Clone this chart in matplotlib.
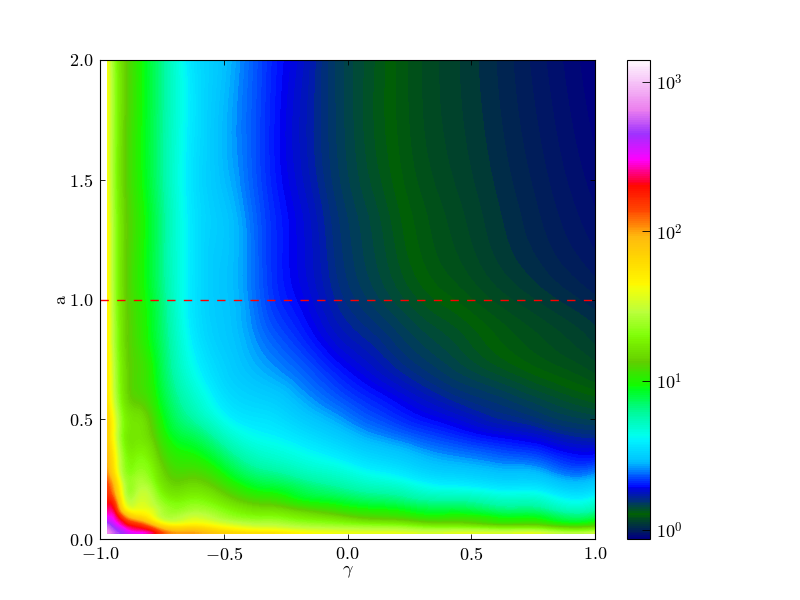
import numpy as np
import matplotlib
matplotlib.use("Agg")
import matplotlib.pyplot as plt
import matplotlib.tri as mtri
from matplotlib.colors import LogNorm, Normalize
from matplotlib.cm import ScalarMappable
from matplotlib.ticker import NullLocator, FixedLocator

plt.rcParams['font.family'] = ['cmr10', 'DejaVu Serif']
plt.rcParams['mathtext.fontset'] = 'cm'
plt.rcParams['axes.unicode_minus'] = False
plt.rcParams['axes.formatter.use_mathtext'] = True

# log10 of the value at each (a, gamma) node, one list per gamma
gamma = [-0.97, -0.94, -0.9, -0.85, -0.77, -0.65, -0.5, -0.33, -0.2, -0.05, 0.1, 0.25, 0.4, 0.6, 0.8, 1.0]
a = [0.025, 0.04, 0.06, 0.08, 0.11, 0.15, 0.2, 0.26, 0.35, 0.45, 0.55, 0.7, 0.85, 1.0, 1.4, 2.0]

col_m097 = [2.85, 2.80, 2.70, 2.55, 2.42, 2.30, 2.18, 2.06, 1.94, 1.85, 1.78, 1.72, 1.68, 1.66, 1.63, 1.60]
col_m094 = [2.72, 2.66, 2.55, 2.45, 2.32, 2.15, 1.95, 1.78, 1.65, 1.57, 1.50, 1.43, 1.39, 1.37, 1.35, 1.33]
col_m090 = [2.60, 2.50, 2.34, 2.18, 1.85, 1.58, 1.47, 1.39, 1.32, 1.27, 1.23, 1.18, 1.16, 1.15, 1.14, 1.14]
col_m085 = [2.50, 2.36, 2.20, 1.95, 1.66, 1.52, 1.44, 1.38, 1.28, 1.22, 1.15, 1.08, 1.05, 1.03, 1.02, 1.01]
col_m077 = [2.25, 2.10, 1.82, 1.60, 1.50, 1.42, 1.33, 1.24, 1.15, 1.06, 0.99, 0.93, 0.89, 0.87, 0.85, 0.84]
col_m065 = [2.00, 1.88, 1.66, 1.53, 1.42, 1.32, 1.21, 1.11, 0.99, 0.86, 0.76, 0.67, 0.62, 0.60, 0.595, 0.59]
col_m050 = [1.85, 1.72, 1.56, 1.44, 1.34, 1.23, 1.11, 0.99, 0.84, 0.69, 0.58, 0.51, 0.48, 0.47, 0.465, 0.46]
col_m033 = [1.75, 1.60, 1.46, 1.36, 1.24, 1.10, 0.96, 0.83, 0.69, 0.59, 0.52, 0.43, 0.38, 0.35, 0.335, 0.33]
col_m020 = [1.66, 1.53, 1.40, 1.30, 1.18, 1.01, 0.89, 0.77, 0.64, 0.54, 0.46, 0.38, 0.32, 0.285, 0.265, 0.26]
col_m005 = [1.60, 1.49, 1.35, 1.24, 1.09, 0.95, 0.82, 0.71, 0.58, 0.47, 0.39, 0.31, 0.25, 0.22, 0.195, 0.18]
col_p010 = [1.57, 1.46, 1.30, 1.15, 1.02, 0.89, 0.76, 0.64, 0.51, 0.40, 0.33, 0.255, 0.21, 0.175, 0.145, 0.13]
col_p025 = [1.55, 1.43, 1.25, 1.10, 0.97, 0.84, 0.71, 0.58, 0.46, 0.35, 0.28, 0.21, 0.17, 0.135, 0.10, 0.085]
col_p040 = [1.54, 1.40, 1.19, 1.06, 0.94, 0.81, 0.655, 0.525, 0.41, 0.31, 0.24, 0.175, 0.14, 0.105, 0.07, 0.055]
col_p060 = [1.53, 1.36, 1.11, 1.00, 0.88, 0.75, 0.61, 0.485, 0.37, 0.26, 0.20, 0.135, 0.10, 0.07, 0.035, 0.02]
col_p080 = [1.52, 1.32, 1.08, 0.96, 0.84, 0.71, 0.58, 0.455, 0.33, 0.225, 0.165, 0.10, 0.07, 0.04, 0.00, -0.02]
col_p100 = [1.50, 1.28, 1.05, 0.93, 0.80, 0.68, 0.55, 0.43, 0.29, 0.195, 0.135, 0.07, 0.04, 0.01, -0.035, -0.06]

log_v = np.array([col_m097, col_m094, col_m090, col_m085, col_m077, col_m065, col_m050, col_m033,
                  col_m020, col_m005, col_p010, col_p025, col_p040, col_p060, col_p080, col_p100]).T

vmin, vmax = 0.87, 1400.0
cbar_ticks = [1, 10, 100, 1000]

fig = plt.figure(figsize=(8, 6), dpi=100)
ax = fig.add_axes([100 / 800, 61 / 600, 495 / 800, 479 / 600])

# smooth the table with matplotlib's own refiner, then fill many thin bands
gg, aa = np.meshgrid(gamma, a)
triang = mtri.Triangulation(gg.ravel(), aa.ravel())
fine_tri, fine_v = mtri.UniformTriRefiner(triang).refine_field(log_v.ravel(), subdiv=3)
levels = np.linspace(np.log10(vmin), np.log10(vmax), 240)
ax.tricontourf(fine_tri, fine_v, levels=levels, cmap='gist_ncar',
               norm=Normalize(np.log10(vmin), np.log10(vmax)), extend='both', antialiased=False)
ax.plot([-1, 1], [1, 1], 'r--', lw=1, dashes=(6, 6))

ax.set_xlim(-1, 1)
ax.set_ylim(0, 2)
ax.set_xticks([-1, -0.5, 0, 0.5, 1])
ax.set_yticks([0, 0.5, 1, 1.5, 2])
ax.set_xticklabels([r'$-1.0$', r'$-0.5$', r'$0.0$', r'$0.5$', r'$1.0$'])
ax.set_yticklabels([r'$0.0$', r'$0.5$', r'$1.0$', r'$1.5$', r'$2.0$'])
ax.tick_params(direction='in', top=True, right=True, length=3.5, width=0.6, labelsize=13, pad=5)
ax.set_xlabel(r'$\gamma$', fontsize=13, labelpad=0)
ax.set_ylabel('a', fontsize=13, labelpad=0)

cax = fig.add_axes([627 / 800, 61 / 600, 23 / 800, 479 / 600])
sm = ScalarMappable(norm=LogNorm(vmin, vmax), cmap='gist_ncar')
cb = fig.colorbar(sm, cax=cax)
cb.ax.yaxis.set_major_locator(FixedLocator(cbar_ticks))
cb.ax.yaxis.set_minor_locator(NullLocator())
cb.ax.set_yticklabels([r'$10^{0}$', r'$10^{1}$', r'$10^{2}$', r'$10^{3}$'])
cb.ax.tick_params(direction='in', length=6, width=0.6, labelsize=13, pad=4)

plt.savefig('out.png', dpi=100)
